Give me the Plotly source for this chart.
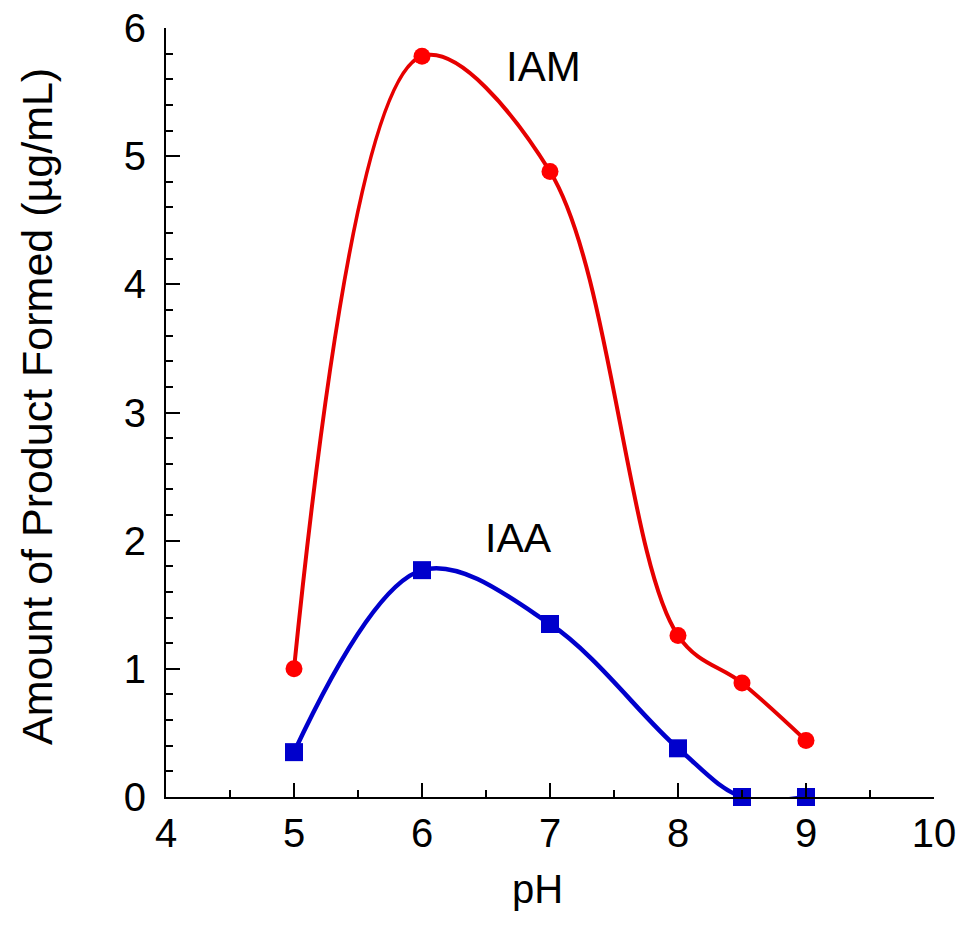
import plotly.graph_objects as go

# Data
ph = [5, 6, 7, 8, 8.5, 9]
iam = [1.00, 5.78, 4.88, 1.26, 0.89, 0.44]
iaa = [0.35, 1.77, 1.35, 0.38, 0.00, 0.00]

x_ticks = [4, 5, 6, 7, 8, 9, 10]
y_ticks = [0, 1, 2, 3, 4, 5, 6]

FONT = "Liberation Sans, Arial, Helvetica, sans-serif"
RED_LINE = "#e60000"
RED_MARK = "#ff0000"
BLUE = "#0000cc"

fig = go.Figure()

fig.add_trace(go.Scatter(
    x=ph, y=iam, mode="lines", line=dict(color=RED_LINE, width=4, shape="spline", smoothing=1.0),
    cliponaxis=False, showlegend=False, hoverinfo="skip"))
fig.add_trace(go.Scatter(
    x=ph, y=iaa, mode="lines", line=dict(color=BLUE, width=4.5, shape="spline", smoothing=1.0),
    cliponaxis=False, showlegend=False, hoverinfo="skip"))
fig.add_trace(go.Scatter(
    x=ph, y=iam, mode="markers", marker=dict(symbol="circle", size=17, color=RED_MARK),
    cliponaxis=False, showlegend=False, name="IAM"))
fig.add_trace(go.Scatter(
    x=ph, y=iaa, mode="markers", marker=dict(symbol="square", size=18, color=BLUE),
    cliponaxis=False, showlegend=False, name="IAA"))

axis_common = dict(
    showline=True, linecolor="black", linewidth=2, mirror=False,
    ticks="inside", ticklen=14, tickwidth=2, tickcolor="black",
    showgrid=False, zeroline=False, automargin=False,
    ticklabeloverflow="allow",
    tickfont=dict(family=FONT, size=40, color="black"),
)

fig.update_xaxes(range=[4, 10], tickvals=x_ticks, ticktext=[str(v) for v in x_ticks],
                 minor=dict(dtick=0.5, tick0=4, ticks="inside", ticklen=7, tickwidth=2, tickcolor="black"),
                 ticklabelstandoff=0, **axis_common)
fig.update_yaxes(range=[0, 6], tickvals=y_ticks, ticktext=[str(v) for v in y_ticks],
                 minor=dict(dtick=0.2, tick0=0, ticks="inside", ticklen=7, tickwidth=2, tickcolor="black"),
                 ticklabelstandoff=10, **axis_common)

fig.add_annotation(x=6.95, y=5.70, xref="x", yref="y", text="IAM", showarrow=False,
                   font=dict(family=FONT, size=42, color="black"), xanchor="center", yanchor="middle")
fig.add_annotation(x=6.75, y=2.02, xref="x", yref="y", text="IAA", showarrow=False,
                   font=dict(family=FONT, size=41, color="black"), xanchor="center", yanchor="middle")

# Axis titles
fig.add_annotation(x=(537 - 166) / 768, y=-(889 - 797) / 769, xref="paper", yref="paper", text="pH",
                   showarrow=False, font=dict(family=FONT, size=40, color="black"),
                   xanchor="center", yanchor="middle")
fig.add_annotation(x=(37 - 166) / 768, y=(797 - 407) / 769, xref="paper", yref="paper",
                   text="Amount of Product Formed (µg/mL)", textangle=-90,
                   showarrow=False, font=dict(family=FONT, size=43, color="black"),
                   xanchor="center", yanchor="middle")

fig.update_layout(
    template="none",
    width=964, height=926,
    margin=dict(l=166, r=30, t=28, b=129),
    paper_bgcolor="white", plot_bgcolor="white",
    showlegend=False,
)

# Remove the default page-body margin so the figure sits at the window's corner
fig.write_html("out.html", config={"displayModeBar": False},
               post_script="document.body.style.margin='0';")
